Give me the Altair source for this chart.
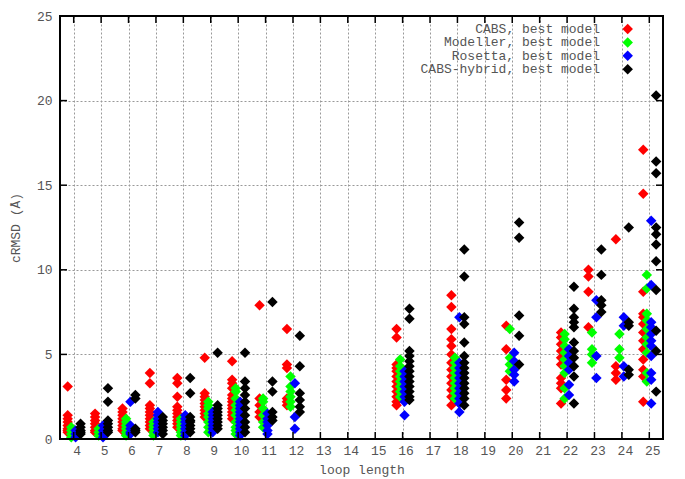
import altair as alt
import pandas as pd

series_names = ["CABS, best model", "Modeller, best model", "Rosetta, best model", "CABS-hybrid, best model"]
series_colors = ["#ff0000", "#00ff00", "#0000ff", "#000000"]
x_ticks = list(range(4, 26))
y_ticks = [0, 5, 10, 15, 20, 25]

cabs = {
    4: [3.1, 1.4, 1.2, 1.0, 0.8, 0.6, 0.5, 0.4],
    5: [1.5, 1.3, 1.1, 0.9, 0.7, 0.5, 0.4],
    6: [1.8, 1.6, 1.4, 1.2, 1.0, 0.8, 0.6, 0.5],
    7: [3.9, 3.3, 2.0, 1.8, 1.6, 1.4, 1.2, 1.0, 0.8, 0.6],
    8: [3.6, 3.3, 2.5, 1.9, 1.7, 1.5, 1.3, 1.1, 0.9, 0.7],
    9: [4.8, 2.7, 2.5, 2.3, 2.1, 1.9, 1.7, 1.5, 1.3],
    10: [4.6, 3.5, 3.3, 3.0, 2.6, 2.4, 2.2, 2.0, 1.8, 1.6, 1.4, 1.2],
    11: [7.9, 2.4, 2.0, 1.6, 1.3],
    12: [6.5, 4.4, 4.2, 2.4, 2.2, 2.0],
    16: [6.5, 6.0, 4.4, 4.2, 4.0, 3.7, 3.4, 3.1, 2.8, 2.5, 2.2, 2.0],
    18: [8.5, 7.8, 6.5, 5.9, 5.5, 5.0, 4.5, 4.1, 3.7, 3.3, 2.9, 2.5, 2.0],
    20: [6.7, 5.3, 3.5, 2.9, 2.4],
    22: [6.3, 6.0, 5.6, 5.2, 4.8, 4.4, 3.6, 3.3, 3.0, 2.1],
    23: [10.0, 9.6, 8.7, 6.6],
    24: [11.8, 4.3, 3.9, 3.5],
    25: [17.1, 14.5, 8.7, 7.4, 7.2, 6.8, 6.3, 5.8, 5.3, 4.7, 4.1, 3.7, 2.2],
}

modeller = {
    4: [0.7, 0.5, 0.3, 0.1],
    5: [0.6, 0.4, 0.2],
    6: [1.2, 1.0, 0.8, 0.6, 0.4, 0.2],
    7: [1.0, 0.8, 0.6, 0.4, 0.2],
    8: [1.2, 1.0, 0.8, 0.6, 0.4, 0.2],
    9: [2.2, 2.0, 1.8, 1.5, 1.3, 1.0, 0.7, 0.4],
    10: [3.0, 2.8, 2.4, 2.0, 1.7, 1.4, 1.0, 0.7, 0.5, 0.3],
    11: [2.4, 2.2, 1.8, 1.4, 1.0, 0.7],
    12: [3.7, 3.1, 2.8, 2.5, 2.2, 1.9],
    16: [4.7, 4.3, 4.0, 3.7, 3.4, 3.1, 2.8, 2.5],
    18: [4.8, 4.5, 4.2, 3.9, 3.6, 3.3, 3.0, 2.7, 2.4],
    20: [6.5, 4.8, 4.4, 4.0],
    22: [6.2, 5.9, 5.5, 5.1, 4.7, 4.3, 3.9, 3.0, 2.4],
    23: [6.3, 5.3, 5.0, 4.5],
    24: [6.2, 5.3, 4.8],
    25: [9.7, 8.9, 7.4, 7.0, 6.5, 6.0, 5.6, 5.1, 3.9, 3.4],
}

rosetta = {
    4: [0.5, 0.3, 0.1],
    5: [0.8, 0.5, 0.3, 0.1],
    6: [2.2, 0.8, 0.6, 0.4, 0.3],
    7: [1.6, 1.4, 1.2, 1.0, 0.8, 0.6, 0.4],
    8: [1.4, 1.2, 1.0, 0.8, 0.6, 0.4, 0.2],
    9: [1.6, 1.4, 1.2, 1.0, 0.8, 0.6, 0.4],
    10: [2.2, 2.0, 1.8, 1.6, 1.4, 1.2, 1.0, 0.8, 0.6, 0.4, 0.2],
    11: [1.5, 1.2, 1.0, 0.8, 0.5, 0.3],
    12: [3.3, 1.3, 0.6],
    16: [4.0, 3.7, 3.4, 3.1, 2.8, 2.5, 2.2, 1.4],
    18: [7.2, 4.5, 4.2, 3.9, 3.6, 3.3, 3.0, 2.7, 2.4, 2.1, 1.6],
    20: [5.1, 4.6, 4.1, 3.8, 3.4],
    22: [5.3, 4.9, 4.5, 4.1, 3.2, 2.6],
    23: [8.2, 7.2, 4.9, 3.6],
    24: [7.2, 6.7, 4.3, 3.7],
    25: [12.9, 9.1, 6.9, 6.6, 6.2, 5.8, 5.5, 4.9, 3.9, 3.5, 2.1],
}

hybrid = {
    4: [0.9, 0.7, 0.5, 0.4, 0.3],
    5: [3.0, 2.2, 1.1, 0.9, 0.7, 0.5, 0.4],
    6: [2.6, 2.4, 0.6, 0.5, 0.4],
    7: [1.3, 1.1, 0.9, 0.7, 0.5, 0.3],
    8: [3.6, 2.7, 1.3, 1.1, 1.0, 0.8, 0.6, 0.4],
    9: [5.1, 2.0, 1.8, 1.6, 1.4, 1.2, 1.0, 0.8, 0.6],
    10: [5.1, 3.4, 3.0, 2.6, 2.2, 1.8, 1.4, 1.0, 0.7, 0.4],
    11: [8.1, 3.4, 2.8, 1.6, 1.3, 1.1],
    12: [6.1, 4.3, 2.7, 2.3, 1.9, 1.6],
    16: [7.7, 7.1, 5.2, 4.9, 4.6, 4.3, 4.0, 3.7, 3.4, 3.1, 2.8, 2.5, 2.3],
    18: [11.2, 9.6, 7.2, 6.8, 5.7, 4.9, 4.5, 4.2, 3.9, 3.6, 3.3, 3.0, 2.7, 2.4, 2.0],
    20: [12.8, 11.9, 7.3, 6.1, 4.4],
    22: [9.0, 7.7, 7.2, 6.9, 6.6, 5.7, 5.2, 4.8, 4.3, 3.7, 2.1],
    23: [11.2, 9.7, 8.2, 7.9, 7.5],
    24: [12.5, 6.9, 6.7, 4.1, 3.8],
    25: [20.3, 16.4, 15.7, 12.5, 12.1, 11.5, 10.5, 8.8, 6.4, 5.2, 2.8],
}

all_series = [cabs, modeller, rosetta, hybrid]
rows = []
for i, (name, d) in enumerate(zip(series_names, all_series)):
    for loop, vals in d.items():
        for v in vals:
            rows.append({"series": name, "order": i, "loop": loop, "rmsd": v})
df = pd.DataFrame(rows)
legend_df = pd.DataFrame({"series": series_names, "idx": list(range(len(series_names)))})

W, H = 603, 423
FONT = "Liberation Mono"
TXT = "#555555"
DIAMOND = "M-1,0L0,-1L1,0L0,1Z"

xscale = alt.Scale(domain=[3.5, 25.5], nice=False, zero=False)
yscale = alt.Scale(domain=[0, 25], nice=False)
cscale = alt.Scale(domain=series_names, range=series_colors)

points = alt.Chart(df).transform_calculate(
    xpos="datum.loop + [-0.22, -0.09, 0.07, 0.25][datum.order]"
).mark_point(shape=DIAMOND, filled=True, size=110, opacity=1, strokeWidth=0).encode(
    x=alt.X("xpos:Q", scale=xscale, axis=alt.Axis(
        values=x_ticks, grid=True, gridDash=[2, 2], gridColor="#999999", gridWidth=1,
        ticks=False, tickSize=0, domain=False, labelFlush=False,
        labelFont=FONT, labelFontSize=13, labelColor=TXT, labelPadding=5, labelOffset=3,
        title="loop length", titleFont=FONT, titleFontSize=13, titleFontWeight="normal",
        titleColor=TXT, titleX=W / 2, titleY=30, titleBaseline="middle", titleAlign="center")),
    y=alt.Y("rmsd:Q", scale=yscale, axis=alt.Axis(
        values=y_ticks, grid=True, gridDash=[2, 2], gridColor="#999999", gridWidth=1,
        ticks=False, tickSize=0, domain=False, labelFlush=False,
        labelFont=FONT, labelFontSize=13, labelColor=TXT, labelPadding=8,
        title="cRMSD (Å)", titleFont=FONT, titleFontSize=13, titleFontWeight="normal",
        titleColor=TXT, titleX=-45, titleY=H / 2, titleBaseline="middle", titleAlign="center",
        titleAngle=270)),
    color=alt.Color("series:N", scale=cscale, legend=None),
    order=alt.Order("order:Q"),
)

ydf = pd.DataFrame({"v": [t for t in y_ticks if 0 < t < 25]})
xdf = pd.DataFrame({"v": x_ticks})

tick_left = alt.Chart(ydf).mark_rule(color="black", strokeWidth=1.5).encode(
    y=alt.Y("v:Q", scale=yscale, axis=None), x=alt.value(0), x2=alt.value(7))
tick_right = alt.Chart(ydf).mark_rule(color="black", strokeWidth=1.5).encode(
    y=alt.Y("v:Q", scale=yscale, axis=None), x=alt.value(W - 7), x2=alt.value(W))
tick_bottom = alt.Chart(xdf).mark_rule(color="black", strokeWidth=1.5).encode(
    x=alt.X("v:Q", scale=xscale, axis=None), y=alt.value(H - 7), y2=alt.value(H))
tick_top = alt.Chart(xdf).mark_rule(color="black", strokeWidth=1.5).encode(
    x=alt.X("v:Q", scale=xscale, axis=None), y=alt.value(0), y2=alt.value(7))

frame = alt.Chart(pd.DataFrame({"a": [0]})).mark_rect(
    fillOpacity=0, stroke="black", strokeWidth=2).encode(
    x=alt.value(0), x2=alt.value(W), y=alt.value(0), y2=alt.value(H))

leg_y = alt.Y("idx:Q", scale=alt.Scale(domain=[0, 3], range=[13, 53.3]), axis=None)
legend_text = alt.Chart(legend_df).mark_text(
    align="right", baseline="middle", font=FONT, fontSize=13, color=TXT).encode(
    x=alt.value(540), y=leg_y, text="series:N")
legend_sym = alt.Chart(legend_df).mark_point(
    shape=DIAMOND, filled=True, size=110, opacity=1, strokeWidth=0).encode(
    x=alt.value(567.7), y=leg_y, color=alt.Color("series:N", scale=cscale, legend=None))

chart = alt.layer(points, frame, tick_left, tick_right, tick_bottom, tick_top,
                  legend_text, legend_sym).resolve_scale(
    x="independent", y="independent").properties(
    width=W, height=H,
    autosize=alt.AutoSizeParams(type="none"),
    padding={"left": 52, "top": 8, "right": 14, "bottom": 40},
    background="white",
).configure_view(stroke=None)

chart.save("out.html", embed_options={"renderer": "svg", "actions": False})
